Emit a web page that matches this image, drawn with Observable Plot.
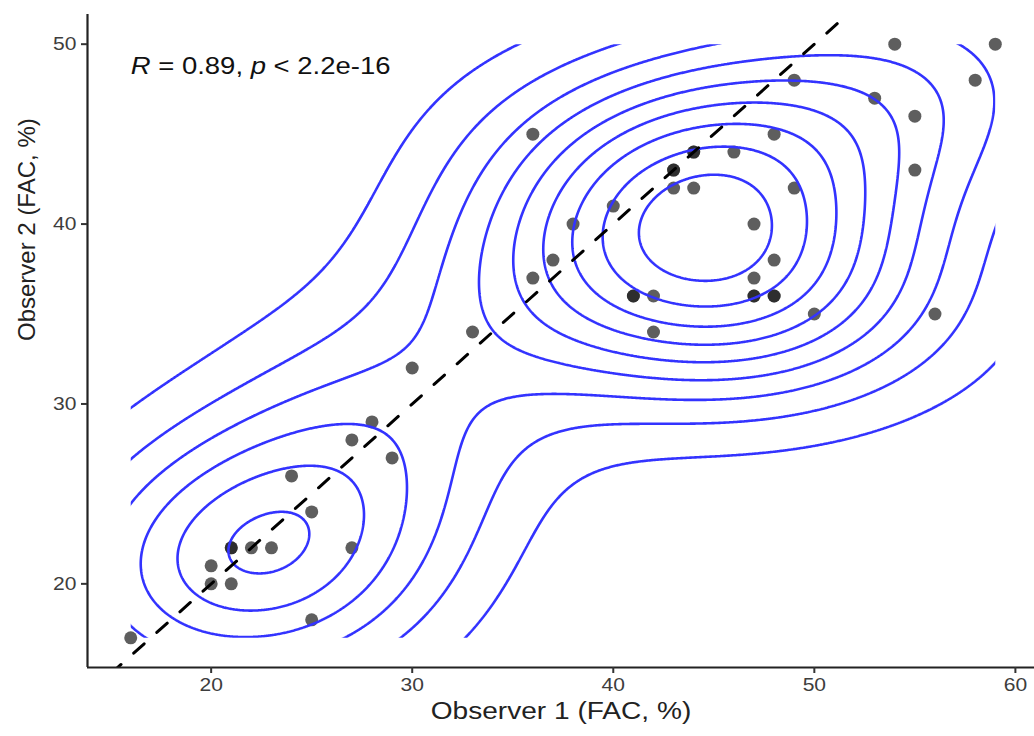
<!DOCTYPE html>
<html>
<head>
<meta charset="utf-8">
<script src="https://cdn.jsdelivr.net/npm/d3@7"></script>
<script src="https://cdn.jsdelivr.net/npm/@observablehq/plot@0.6"></script>
<style>
  html, body { margin: 0; padding: 0; background: #fff; }
  #chart svg { display: block; font-family: "Liberation Sans", Arial, sans-serif; }
</style>
</head>
<body>
<div id="chart"></div>
<script>
// Observer readings (FAC, %)
const observer1 = [16,20,20,21,21,21,22,23,24,25,25,27,27,28,29,30,33,36,36,37,38,40,41,41,42,42,43,43,43,44,44,44,46,47,47,47,47,48,48,48,48,49,49,50,53,54,55,55,56,58,59];
const observer2 = [17,20,21,20,22,22,22,22,26,24,18,28,22,29,27,32,34,37,45,38,40,41,36,36,36,34,42,43,43,44,44,42,44,40,37,36,36,38,36,36,45,48,42,35,47,50,46,43,35,48,50];
const xTicks = [20, 30, 40, 50, 60];
const yTicks = [20, 30, 40, 50];
const xLabel = "Observer 1 (FAC, %)";
const yLabel = "Observer 2 (FAC, %)";
const corLabel = {R: "0.89", p: "2.2e-16"};
const ablineIntercept = 0, ablineSlope = 1;

const points = observer1.map((x, i) => ({x, y: observer2[i]}));

// ggplot-like limits (5% expansion of data range)
const xExt = d3.extent(observer1), yExt = d3.extent(observer2);
const xPad = (xExt[1] - xExt[0]) * 0.05, yPad = (yExt[1] - yExt[0]) * 0.05;
const xDomain = [xExt[0] - xPad, xExt[1] + xPad - 0.2];
const yDomain = [yExt[0] - yPad, yExt[1] + yPad];

// MASS::kde2d with bandwidth.nrd (as in stat_density_2d)
function nrd(v) {
  const s = v.slice().sort(d3.ascending);
  const iqr = (d3.quantileSorted(s, 0.75) - d3.quantileSorted(s, 0.25)) / 1.34;
  return 4 * 1.06 * Math.min(d3.deviation(v), iqr) * Math.pow(v.length, -0.2);
}
const hx = nrd(observer1) / 4, hy = nrd(observer2) / 4;
const N = observer1.length;
const norm = 1 / (2 * Math.PI * N * hx * hy);
function dens(x, y) {
  let s = 0;
  for (let i = 0; i < N; i++) {
    const a = (x - observer1[i]) / hx, b = (y - observer2[i]) / hy;
    s += Math.exp(-0.5 * (a * a + b * b));
  }
  return s * norm;
}
// range of density on the 100x100 kde2d grid, breaks like pretty(range, 10)
let zmin = Infinity, zmax = -Infinity;
for (let i = 0; i < 100; i++) for (let j = 0; j < 100; j++) {
  const z = dens(xExt[0] + (xExt[1] - xExt[0]) * i / 99, yExt[0] + (yExt[1] - yExt[0]) * j / 99);
  if (z < zmin) zmin = z; if (z > zmax) zmax = z;
}
const thresholds = d3.ticks(zmin, zmax, 10).filter(t => t > zmin && t < zmax);

const lineData = xDomain.map(x => ({x, y: ablineIntercept + ablineSlope * x}));

const chart = Plot.plot({
  width: 1034,
  height: 736,
  marginLeft: 87,
  marginRight: 0,
  marginTop: 14,
  marginBottom: 69,
  style: {fontFamily: "Liberation Sans, Arial, sans-serif", background: "white"},
  x: {domain: xDomain, ticks: xTicks, label: null},
  y: {domain: yDomain, ticks: yTicks, label: null},
  marks: [
    Plot.dot(points, {x: "x", y: "y", r: 6.5, fill: "#1a1a1a", fillOpacity: 0.7, stroke: "none"}),
    Plot.contour({
      value: dens,
      x1: xDomain[0], x2: xDomain[1], y1: yDomain[0], y2: yDomain[1],
      thresholds, pixelSize: 1,
      fill: "none", stroke: "#3333ff", strokeWidth: 2.6
    }),
    Plot.line(lineData, {x: "x", y: "y", stroke: "black", strokeWidth: 3, strokeDasharray: "14,17", clip: true}),
    Plot.ruleX([xDomain[0]], {stroke: "#222", strokeWidth: 2.2}),
    Plot.ruleY([yDomain[0]], {stroke: "#222", strokeWidth: 2.2}),
    Plot.axisX({ticks: xTicks, tickSize: 6, tickPadding: 5, fontSize: 18, color: "#3d3d3d", stroke: "#333", strokeWidth: 2, label: null}),
    Plot.axisY({ticks: yTicks, tickSize: 6, tickPadding: 5, fontSize: 18, color: "#3d3d3d", stroke: "#333", strokeWidth: 2, label: null}),
    Plot.text([xLabel], {frameAnchor: "bottom", dy: 51, fontSize: 24, fill: "#222", text: d => d}),
    Plot.text([yLabel], {frameAnchor: "left", dx: -60, rotate: -90, fontSize: 24, fill: "#222", text: d => d}),
    Plot.text([corLabel], {x: xExt[0], y: yExt[1] - 1.25, textAnchor: "start", fontSize: 23.5, fill: "#111",
      text: d => `R = ${d.R}, p < ${d.p}`})
  ]
});

const ns = "http://www.w3.org/2000/svg";
// Clip density contours to the kde2d grid limits (data range)
const sx = chart.scale("x"), sy = chart.scale("y");
const defs = document.createElementNS(ns, "defs");
const cp = document.createElementNS(ns, "clipPath");
cp.setAttribute("id", "kdeclip");
const r = document.createElementNS(ns, "rect");
const rx0 = sx.apply(xExt[0]), rx1 = sx.apply(xExt[1]);
const ry0 = sy.apply(yExt[1]), ry1 = sy.apply(yExt[0]);
r.setAttribute("x", rx0); r.setAttribute("y", ry0);
r.setAttribute("width", rx1 - rx0); r.setAttribute("height", ry1 - ry0);
cp.appendChild(r); defs.appendChild(cp);
chart.insertBefore(defs, chart.firstChild);
const cg = chart.querySelector('g[aria-label="contour"]');
if (cg) cg.setAttribute("clip-path", "url(#kdeclip)");

// italic R and p in the correlation label
const lab = [...chart.querySelectorAll("text")].find(t => t.textContent.startsWith("R = "));
if (lab) {
  const parts = [["R", true], [" = " + corLabel.R + ", ", false], ["p", true], [" < " + corLabel.p, false]];
  lab.textContent = "";
  for (const [s, it] of parts) {
    const ts = document.createElementNS(ns, "tspan");
    ts.textContent = s;
    if (it) ts.setAttribute("font-style", "italic");
    lab.appendChild(ts);
  }
}

// the reference's lettering is slightly wide: stretch horizontal texts a bit
const stretch = 1.17;
for (const t of chart.querySelectorAll("text")) {
  if (t.textContent === yLabel) continue;
  const tr = t.getAttribute("transform") || "";
  if (/rotate/.test(tr)) continue;
  const xa = t.getAttribute("x");
  if (xa != null && xa !== "") t.setAttribute("x", (+xa) / stretch);
  t.setAttribute("transform", (tr + ` scale(${stretch},1)`).trim());
}
document.getElementById("chart").appendChild(chart);
</script>
</body>
</html>
